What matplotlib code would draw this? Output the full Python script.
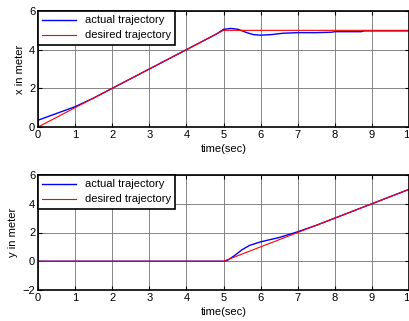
import matplotlib
matplotlib.use("Agg")
from matplotlib import pyplot as plt

plt.rcParams.update({'font.family': 'Liberation Sans', 'font.size': 8})

# x trajectory (top)
t_x_des = [0, 5, 10]
x_des = [0, 5, 5]
t_x_act = [0, 0.5, 1, 1.5, 2, 3, 4, 4.8, 5.0, 5.2, 5.4, 5.6, 5.8, 6.0, 6.3, 6.6, 7.0, 7.5, 7.9, 8.0, 8.7, 8.8, 9.0, 10]
x_act = [0.35, 0.7, 1.05, 1.5, 2.0, 3.0, 4.0, 4.8, 5.05, 5.1, 5.05, 4.9, 4.78, 4.75, 4.78, 4.85, 4.88, 4.88, 4.9, 4.93, 4.93, 4.97, 4.97, 4.97]

# y trajectory (bottom)
t_y_des = [0, 5, 10]
y_des = [0, 0, 5]
t_y_act = [0, 5.0, 5.1, 5.3, 5.5, 5.7, 6.0, 6.5, 7.0, 7.5, 8, 9, 10]
y_act = [0, 0, 0.05, 0.4, 0.8, 1.1, 1.35, 1.65, 2.05, 2.5, 3.0, 4.0, 5.0]

xticks = list(range(0, 11))

fig = plt.figure(figsize=(4.09, 3.21), dpi=100)
ax1 = fig.add_axes([38/409, 1-127/321, 1-38/409, 116/321])
ax2 = fig.add_axes([38/409, 1-290/321, 1-38/409, 115/321])

def style(ax, ylim, yticks, ylabel):
    ax.set_xlim(0, 10)
    ax.set_ylim(*ylim)
    ax.set_xticks(xticks)
    ax.set_yticks(yticks)
    ax.grid(True, color='0.45', linewidth=0.6)
    ax.tick_params(direction='in', top=True, right=True, length=3, pad=2)
    for s in ax.spines.values():
        s.set_linewidth(1.2)
    ax.set_xlabel("time(sec)", labelpad=3)
    ax.set_ylabel(ylabel, labelpad=3)
    leg = ax.legend(loc='upper left', fancybox=False, framealpha=1, edgecolor='black',
                    borderpad=0.4, labelspacing=0.45, handlelength=3.0, borderaxespad=0)
    leg.get_frame().set_linewidth(1.2)

ax1.plot(t_x_act, x_act, color='blue', linewidth=1.0, label='actual trajectory')
ax1.plot(t_x_des, x_des, color='red', linewidth=0.8, label='desired trajectory')
style(ax1, (0, 6), [0, 2, 4, 6], "x in meter")

ax2.plot(t_y_act, y_act, color='blue', linewidth=1.0, label='actual trajectory')
ax2.plot(t_y_des, y_des, color='red', linewidth=0.8, label='desired trajectory')
style(ax2, (-2, 6), [-2, 0, 2, 4, 6], "y in meter")

fig.savefig("out.png", dpi=100)
